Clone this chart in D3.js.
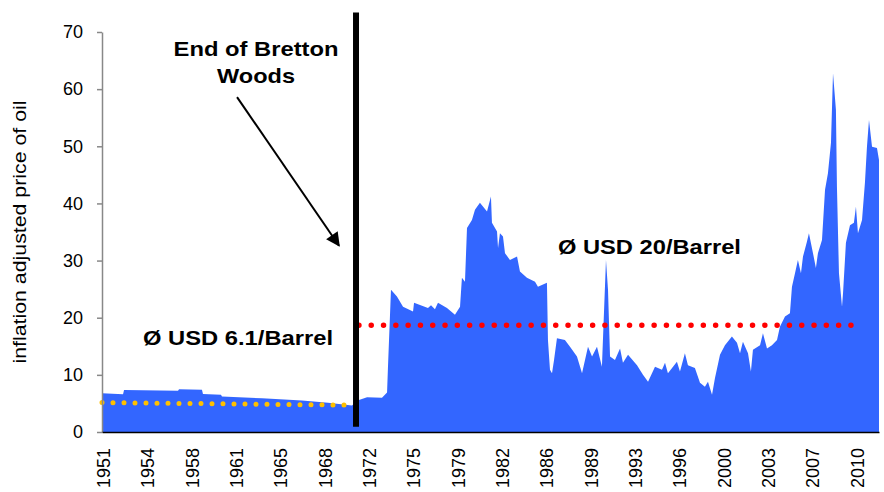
<!DOCTYPE html>
<html>
<head>
<meta charset="utf-8">
<script src="https://cdn.jsdelivr.net/npm/d3@7"></script>
<style>
  body { margin: 0; background: #fff; }
  text { font-family: "Liberation Sans", Arial, sans-serif; }
</style>
</head>
<body>
<div id="plot"></div>
<script>
//Set Height and Width Vars;
const w = 884;
const h = 492;
const plotLeft = 102, plotRight = 879, plotTop = 32, plotBottom = 432;

//Oil price series (decimal year, inflation adjusted USD);
const years = [1950.92, 1952.58, 1952.66, 1956.92, 1957.0, 1958.81, 1958.89, 1960.31, 1960.39, 1963.55, 1966.71, 1968.76, 1970.65,
  1971.2, 1971.84, 1973.02, 1973.42, 1973.49, 1973.73, 1974.2, 1974.68, 1975.47, 1975.55, 1976.65, 1976.89, 1977.2, 1977.44,
  1978.15, 1978.78, 1979.18, 1979.33, 1979.57, 1979.73, 1980.12, 1980.36, 1980.75, 1981.31, 1981.62, 1981.7, 1982.1, 1982.18,
  1982.33, 1982.57, 1982.73, 1983.12, 1983.68, 1983.91, 1984.46, 1985.1, 1985.33, 1986.04, 1986.12, 1986.28, 1986.44, 1986.6,
  1986.83, 1987.46, 1987.86, 1988.41, 1988.81, 1989.28, 1989.6, 1989.99, 1990.38, 1990.7, 1990.86, 1991.02, 1991.41, 1991.81,
  1992.04, 1992.44, 1993.15, 1993.62, 1994.02, 1994.57, 1995.12, 1995.36, 1995.59, 1996.3, 1996.54, 1996.93, 1997.17, 1997.72,
  1998.12, 1998.51, 1998.75, 1999.07, 1999.3, 1999.7, 2000.09, 2000.64, 2001.04, 2001.28, 2001.51, 2001.91, 2002.14, 2002.3,
  2002.86, 2003.09, 2003.41, 2003.8, 2004.2, 2004.43, 2004.83, 2005.22, 2005.38, 2005.62, 2005.85, 2006.09, 2006.25, 2006.56,
  2006.72, 2007.04, 2007.27, 2007.43, 2007.75, 2007.99, 2008.22, 2008.46, 2008.62, 2008.85, 2008.93, 2009.09, 2009.33, 2009.41,
  2009.64, 2009.96, 2010.27, 2010.43, 2010.59, 2010.91, 2011.14, 2011.3, 2011.46, 2011.7, 2012.09, 2012.25];
const prices = [6.8, 6.6, 7.35, 7.2, 7.5, 7.4, 6.65, 6.5, 6.2, 5.9, 5.5, 5.1, 4.65,
  5.6, 6.1, 6.0, 6.9, 11.2, 24.9, 23.7, 21.9, 21.1, 22.6, 21.7, 22.2, 21.5, 22.6,
  21.7, 20.5, 21.9, 27.0, 26.3, 35.7, 37.1, 38.9, 40.1, 38.6, 41.2, 36.6, 35.1, 32.2,
  34.8, 34.2, 31.3, 30.1, 30.7, 28.1, 27.0, 26.3, 25.4, 26.1, 16.1, 10.9, 10.3, 12.6,
  16.4, 16.1, 14.9, 13.2, 10.3, 14.9, 13.2, 14.9, 11.4, 30.1, 24.9, 13.2, 12.6, 14.6,
  12.1, 13.5, 11.7, 10.0, 8.8, 11.4, 10.9, 12.1, 10.3, 12.3, 10.6, 13.8, 11.7, 11.2,
  8.6, 7.9, 8.8, 6.5, 9.4, 13.5, 15.2, 16.7, 15.6, 13.8, 15.8, 13.8, 10.6, 14.4,
  15.2, 17.3, 14.6, 15.2, 16.1, 18.4, 20.2, 20.8, 25.4, 27.8, 30.1, 27.8, 30.7, 33.3,
  34.8, 31.3, 28.7, 31.3, 33.6, 42.4, 45.3, 50.6, 62.8, 56.4, 42.9, 27.8, 21.9, 24.3,
  33.1, 36.2, 36.6, 39.4, 34.8, 37.1, 43.6, 49.9, 54.6, 49.9, 49.7, 47.6];

//Average lines;
const avgPreYears = [1950.92, 1970.35];
const avgPreValues = [5.15, 4.7];
const avgPostYears = [1971.2, 2010.9];
const avgPostValues = [18.7, 18.7];

//End of Bretton Woods;
const brettonYear = 1970.97;

//Axis ticks;
const yTicks = [0, 10, 20, 30, 40, 50, 60, 70];
const xTickPos = [1951, 1954.5, 1958, 1961.5, 1965, 1968.5, 1972, 1975.5, 1979, 1982.5, 1986, 1989.5, 1993, 1996.5, 2000, 2003.5, 2007, 2010.5];
const xTickLabels = ["1951", "1954", "1958", "1961", "1965", "1968", "1972", "1975", "1979", "1982", "1986", "1989", "1993", "1996", "2000", "2003", "2007", "2010"];

const oilData = years.map((d, i) => ({yr: d, v: prices[i]}));

//Initialize SVG;
const svg = d3.select("#plot")
  .append("svg")
    .attr("width", w)
    .attr("height", h);

//Scales;
const xScale = d3.scaleLinear().domain([1950.92, 2012.25]).range([plotLeft, plotRight]);
const yScale = d3.scaleLinear().domain([0, 70]).range([plotBottom, plotTop]);

//Area;
const area = d3.area()
  .x(d => xScale(d.yr))
  .y0(yScale(0))
  .y1(d => yScale(d.v));

svg.append("path")
  .datum(oilData)
  .attr("d", area)
  .attr("fill", "#3366FF");

//Dotted average lines;
const avgLine = d3.line().x(d => xScale(d[0])).y(d => yScale(d[1]));

svg.append("path")
  .attr("d", avgLine(avgPreYears.map((d, i) => [d, avgPreValues[i]])))
  .attr("fill", "none")
  .attr("stroke", "#FFC000")
  .attr("stroke-width", 5)
  .attr("stroke-linecap", "round")
  .attr("stroke-dasharray", "0 11");

svg.append("path")
  .attr("d", avgLine(avgPostYears.map((d, i) => [d, avgPostValues[i]])))
  .attr("fill", "none")
  .attr("stroke", "#FF0000")
  .attr("stroke-width", 5.5)
  .attr("stroke-linecap", "round")
  .attr("stroke-dasharray", "0 12.3");

//Bretton Woods line;
svg.append("line")
  .attr("x1", xScale(brettonYear)).attr("x2", xScale(brettonYear))
  .attr("y1", yScale(73.4)).attr("y2", yScale(0.9))
  .attr("stroke", "#000")
  .attr("stroke-width", 6);

//Y Axis;
const yAxis = d3.axisLeft(yScale)
  .tickValues(yTicks)
  .tickSize(5)
  .tickSizeOuter(0)
  .tickPadding(14);

const gy = svg.append("g")
  .attr("transform", "translate(" + plotLeft + ",0)")
  .call(yAxis);
gy.select(".domain").attr("stroke", "#888").attr("stroke-width", 1.5);
gy.selectAll(".tick line").attr("stroke", "#888").attr("stroke-width", 1.5);
gy.selectAll("text").attr("font-size", 18).attr("fill", "#000")
  .style("font-family", "'Liberation Sans', Arial, sans-serif");

//X Axis;
const xAxis = d3.axisBottom(xScale)
  .tickValues(xTickPos)
  .tickSize(0)
  .tickSizeOuter(0)
  .tickFormat((d, i) => xTickLabels[i]);

const gx = svg.append("g")
  .attr("transform", "translate(0," + plotBottom + ")")
  .call(xAxis);
gx.select(".domain").attr("stroke", "#000").attr("stroke-width", 1.5);
gx.selectAll("text")
  .attr("font-size", 18)
  .attr("fill", "#000")
  .style("font-family", "'Liberation Sans', Arial, sans-serif")
  .attr("text-anchor", "end")
  .attr("transform", "rotate(-90)")
  .attr("x", -16)
  .attr("y", 0)
  .attr("dy", "0.35em");

//Y Axis title;
svg.append("text")
  .attr("transform", "translate(26," + ((plotTop + plotBottom) / 2) + ") rotate(-90)")
  .attr("text-anchor", "middle")
  .attr("font-size", 18)
  .attr("textLength", 263)
  .attr("lengthAdjust", "spacingAndGlyphs")
  .text("inflation adjusted price of oil");

//Annotations;
function label(txt, yr, val, size, len, anchor) {
  svg.append("text")
    .attr("x", xScale(yr))
    .attr("y", yScale(val))
    .attr("text-anchor", anchor)
    .attr("font-size", size)
    .attr("font-weight", "bold")
    .attr("textLength", len)
    .attr("lengthAdjust", "spacingAndGlyphs")
    .text(txt);
}
label("End of Bretton", 1963.08, 65.8, 21, 165, "middle");
label("Woods", 1963.08, 61.0, 21, 78, "middle");
label("Ø USD 6.1/Barrel", 1954.16, 15.2, 20, 190, "start");
label("Ø USD 20/Barrel", 1986.91, 31.15, 20, 183, "start");

//Arrow;
svg.append("defs").append("marker")
  .attr("id", "arrowhead")
  .attr("viewBox", "0 0 10 10")
  .attr("refX", 9).attr("refY", 5)
  .attr("markerWidth", 8).attr("markerHeight", 7)
  .attr("markerUnits", "strokeWidth")
  .attr("orient", "auto")
  .append("path")
    .attr("d", "M0,0 L10,5 L0,10 z")
    .attr("fill", "#000");

svg.append("line")
  .attr("x1", xScale(1961.58)).attr("y1", yScale(58.6))
  .attr("x2", xScale(1969.63)).attr("y2", yScale(32.6))
  .attr("stroke", "#000")
  .attr("stroke-width", 2)
  .attr("marker-end", "url(#arrowhead)");
</script>
</body>
</html>
